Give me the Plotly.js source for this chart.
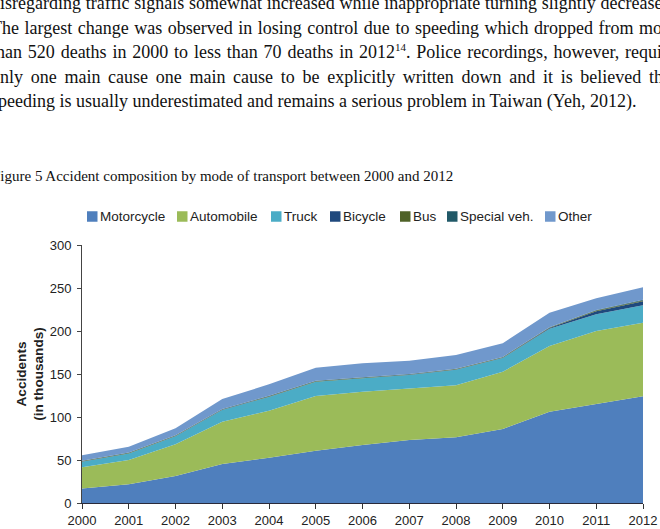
<!DOCTYPE html>
<html>
<head>
<meta charset="utf-8">
<script src="https://cdn.plot.ly/plotly-3.0.1.min.js"></script>
<style>
  html, body { margin:0; padding:0; background:#fff; }
  body { width:660px; height:529px; overflow:hidden; position:relative; }
  #chart { position:absolute; left:0; top:0; width:660px; height:529px; }
  .ln { position:absolute; left:-9px; width:685px; font-family:"Liberation Serif", serif; font-size:18px;
        line-height:18px; color:#111; text-align:justify; text-align-last:justify; z-index:2; }
  .ln.last { text-align:left; text-align-last:left; }
  .ln sup { font-size:11px; line-height:0; vertical-align:7px; }
  .cap { position:absolute; left:-8px; top:169.4px; font-family:"Liberation Serif", serif; font-size:15px;
         line-height:15px; color:#111; white-space:nowrap; z-index:2; }
</style>
</head>
<body>
<div id="chart"></div>
<div class="ln" style="top:-5.6px">disregarding traffic signals somewhat increased while inappropriate turning slightly decreased.</div>
<div class="ln" style="top:18.9px">The largest change was observed in losing control due to speeding which dropped from more</div>
<div class="ln" style="top:43.4px">than 520 deaths in 2000 to less than 70 deaths in 2012<sup>14</sup>. Police recordings, however, require</div>
<div class="ln" style="top:67.9px">only one main cause one main cause to be explicitly written down and it is believed that</div>
<div class="ln last" style="top:92.4px">speeding is usually underestimated and remains a serious problem in Taiwan (Yeh, 2012).</div>
<div class="cap">Figure 5 Accident composition by mode of transport between 2000 and 2012</div>
<script>
// ---- data (accidents, in thousands) ----
const years = [2000, 2001, 2002, 2003, 2004, 2005, 2006, 2007, 2008, 2009, 2010, 2011, 2012];
const yearLabels = ["2000","2001","2002","2003","2004","2005","2006","2007","2008","2009","2010","2011","2012"];
const motorcycle = [17.0, 21.7, 31.4, 45.3, 52.7, 60.8, 67.4, 73.3, 76.4, 86.0, 106.0, 115.0, 124.0];
const automobile = [24.5, 28.3, 36.8, 49.3, 54.7, 63.6, 62.1, 60.0, 60.6, 66.7, 76.6, 85.0, 85.5];
const truck      = [6.5, 7.5, 9.5, 13.5, 16.0, 16.5, 15.5, 15.5, 18.0, 16.0, 20.0, 19.5, 20.5];
const bicycle    = [0.2, 0.2, 0.2, 0.2, 0.2, 0.2, 0.2, 0.2, 0.2, 0.2, 0.8, 3.5, 4.5];
const bus        = [0.5, 0.5, 0.5, 0.5, 0.5, 0.5, 0.5, 0.5, 0.5, 0.5, 0.6, 0.8, 1.0];
const specialVeh = [0.5, 0.5, 0.5, 0.5, 0.5, 0.5, 0.5, 0.5, 0.5, 0.5, 0.5, 0.6, 0.7];
const other      = [6.2, 6.8, 7.9, 11.7, 13.4, 15.3, 16.2, 15.5, 15.8, 15.8, 16.8, 13.6, 14.6];

const seriesNames  = ["Motorcycle", "Automobile", "Truck", "Bicycle", "Bus", "Special veh.", "Other"];
const seriesValues = [motorcycle, automobile, truck, bicycle, bus, specialVeh, other];
const seriesColors = ["#4f7fbd", "#9bbb59", "#4bacc6", "#1f497d", "#4f6228", "#215968", "#7098cc"];

// legend layout (pixel positions of each key square's left edge) - layout only
const legendPx = [87, 177, 271, 330, 400, 447, 545];
const legendSize = 10.5, legendCenterY = 216.5;

const plotLeft = 82, plotRight = 643, plotTop = 245, plotBottom = 503;
const W = 660, H = 529;
const px2x = p => (p - plotLeft) / (plotRight - plotLeft);
const py2y = p => (plotBottom - p) / (plotBottom - plotTop);

const traces = seriesNames.map((name, i) => ({
  type: "scatter",
  mode: "lines",
  name: name,
  x: years,
  y: seriesValues[i],
  stackgroup: "one",
  line: { width: 0, color: seriesColors[i] },
  fillcolor: seriesColors[i],
  showlegend: false,
  hoverinfo: "x+y+name"
}));

const shapes = seriesNames.map((name, i) => ({
  type: "rect", xref: "paper", yref: "paper",
  x0: px2x(legendPx[i]), x1: px2x(legendPx[i] + legendSize),
  y0: py2y(legendCenterY + legendSize / 2), y1: py2y(legendCenterY - legendSize / 2),
  fillcolor: seriesColors[i], line: { width: 0 }
}));

const annotations = seriesNames.map((name, i) => ({
  xref: "paper", yref: "paper",
  x: px2x(legendPx[i] + legendSize + 1),
  y: py2y(legendCenterY),
  xanchor: "left", yanchor: "middle",
  showarrow: false,
  text: name,
  font: { family: "Liberation Sans, Arial, sans-serif", size: 13.5, color: "#222" },
  borderpad: 0
}));

const layout = {
  width: W, height: H,
  margin: { l: plotLeft, r: W - plotRight, t: plotTop, b: H - plotBottom, pad: 0 },
  paper_bgcolor: "rgba(0,0,0,0)",
  plot_bgcolor: "rgba(0,0,0,0)",
  showlegend: false,
  font: { family: "Liberation Sans, Arial, sans-serif", size: 13, color: "#222" },
  xaxis: {
    range: [2000, 2012],
    tickvals: years, ticktext: yearLabels,
    showgrid: false, zeroline: false,
    showline: true, linecolor: "#2a2a3a", linewidth: 1,
    ticks: "outside", ticklen: 5, tickcolor: "#333", tickwidth: 1,
    tickfont: { family: "Liberation Sans, Arial, sans-serif", size: 13, color: "#222" }
  },
  yaxis: {
    range: [0, 300], dtick: 50, tick0: 0,
    showgrid: false, zeroline: false,
    showline: true, linecolor: "#444", linewidth: 1,
    ticks: "outside", ticklen: 4, tickcolor: "#444", tickwidth: 1,
    ticklabelstandoff: 3,
    tickfont: { family: "Liberation Sans, Arial, sans-serif", size: 13, color: "#222" },
    title: { text: "<b>Accidents</b><br><b>(in thousands)</b>", standoff: 2,
             font: { family: "Liberation Sans, Arial, sans-serif", size: 13.6, color: "#222" } }
  },
  shapes: shapes,
  annotations: annotations
};

Plotly.newPlot("chart", traces, layout, { displayModeBar: false, staticPlot: true });
</script>
</body>
</html>
